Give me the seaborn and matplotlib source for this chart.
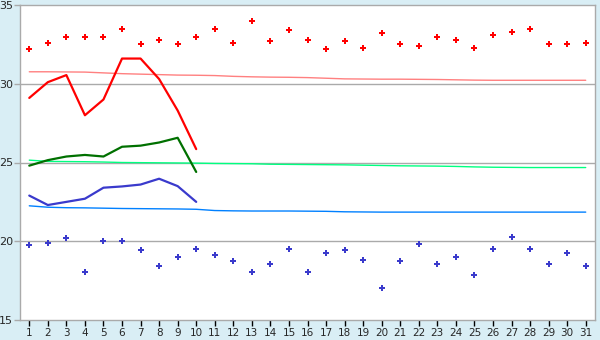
import numpy as np
import pandas as pd
import matplotlib
matplotlib.use('Agg')
import matplotlib.pyplot as plt
import seaborn as sns

# Data
days = list(range(1, 32))
max_pts = [32.2, 32.6, 33.0, 33.0, 33.0, 33.5, 32.5, 32.8, 32.5, 33.0,
           33.5, 32.6, 34.0, 32.7, 33.4, 32.8, 32.2, 32.7, 32.3, 33.2,
           32.5, 32.4, 33.0, 32.8, 32.3, 33.1, 33.3, 33.5, 32.5, 32.5, 32.6]
min_pts = [19.75, 19.9, 20.2, 18.05, 20.0, 20.0, 19.45, 18.45, 19.0, 19.5,
           19.1, 18.75, 18.05, 18.55, 19.5, 18.05, 19.25, 19.45, 18.8, 17.05,
           18.75, 19.8, 18.55, 19.0, 17.85, 19.5, 20.3, 19.5, 18.55, 19.25, 18.45]
days_obs = list(range(1, 11))
max_obs = [29.1, 30.1, 30.55, 28.0, 29.0, 31.6, 31.6, 30.3, 28.3, 25.85]
mean_obs = [24.8, 25.15, 25.38, 25.48, 25.38, 26.0, 26.07, 26.27, 26.57, 24.4]
min_obs = [22.9, 22.3, 22.5, 22.7, 23.4, 23.48, 23.6, 23.97, 23.5, 22.5]
max_norm = [30.76, 30.76, 30.75, 30.74, 30.69, 30.64, 30.61, 30.58, 30.55, 30.54,
            30.52, 30.47, 30.44, 30.42, 30.41, 30.39, 30.35, 30.31, 30.3, 30.29,
            30.29, 30.28, 30.27, 30.25, 30.23, 30.22, 30.22, 30.22, 30.22, 30.22, 30.22]
mean_norm = [25.15, 25.07, 25.06, 25.05, 25.03, 25.0, 24.99, 24.98, 24.97, 24.96,
             24.94, 24.93, 24.92, 24.89, 24.88, 24.87, 24.86, 24.85, 24.83, 24.81,
             24.79, 24.78, 24.77, 24.75, 24.72, 24.7, 24.69, 24.68, 24.68, 24.68, 24.68]
min_norm = [22.25, 22.16, 22.13, 22.12, 22.1, 22.08, 22.07, 22.06, 22.05, 22.03,
            21.95, 21.93, 21.92, 21.92, 21.92, 21.91, 21.9, 21.87, 21.86, 21.85,
            21.85, 21.85, 21.85, 21.85, 21.85, 21.85, 21.85, 21.85, 21.85, 21.85, 21.85]

norm = pd.DataFrame({'day': days, 'max': max_norm, 'mean': mean_norm, 'min': min_norm})
obs = pd.DataFrame({'day': days_obs, 'max': max_obs, 'mean': mean_obs, 'min': min_obs})
pts = pd.DataFrame({'day': days, 'max': max_pts, 'min': min_pts})

sns.set_style('white')
plt.rcParams['font.family'] = ['DejaVu Sans']

fig = plt.figure(figsize=(6, 3.4), dpi=100, facecolor='#d9eef5')
ax = fig.add_axes([20 / 600, 20 / 340, 575 / 600, 315 / 340])
ax.set_facecolor('white')

# grid lines
for v in [20, 25, 30]:
    ax.axhline(v, color='#aaaaaa', lw=1.0, zorder=0)

# normals
sns.lineplot(ax=ax, data=norm, x='day', y='max', color='#ff8080', lw=1.0)
sns.lineplot(ax=ax, data=norm, x='day', y='mean', color='#00ff80', lw=1.0)
sns.lineplot(ax=ax, data=norm, x='day', y='min', color='#0080ff', lw=1.0)

# observed
sns.lineplot(ax=ax, data=obs, x='day', y='max', color='#ff0000', lw=1.6)
sns.lineplot(ax=ax, data=obs, x='day', y='mean', color='#007000', lw=1.6)
sns.lineplot(ax=ax, data=obs, x='day', y='min', color='#3a3acc', lw=1.6)

# extremes
sns.scatterplot(ax=ax, data=pts, x='day', y='max', color='#ff0000', marker='P', s=24, linewidth=0)
sns.scatterplot(ax=ax, data=pts, x='day', y='min', color='#3a3acc', marker='P', s=24, linewidth=0)

ax.set_xlim(0.5, 31.5)
ax.set_ylim(15, 35)
ax.set_xticks(days)
ax.set_yticks([15, 20, 25, 30, 35])
ax.set_xlabel('')
ax.set_ylabel('')
ax.tick_params(axis='x', length=4, width=1, color='black', labelsize=7.5, pad=2, bottom=True)
ax.tick_params(axis='y', length=4, width=1, color='#aaaaaa', labelsize=8, pad=1, left=True)
for s in ax.spines.values():
    s.set_color('#aaaaaa')
    s.set_linewidth(1.0)

plt.savefig('out.png', dpi=100, facecolor=fig.get_facecolor())
